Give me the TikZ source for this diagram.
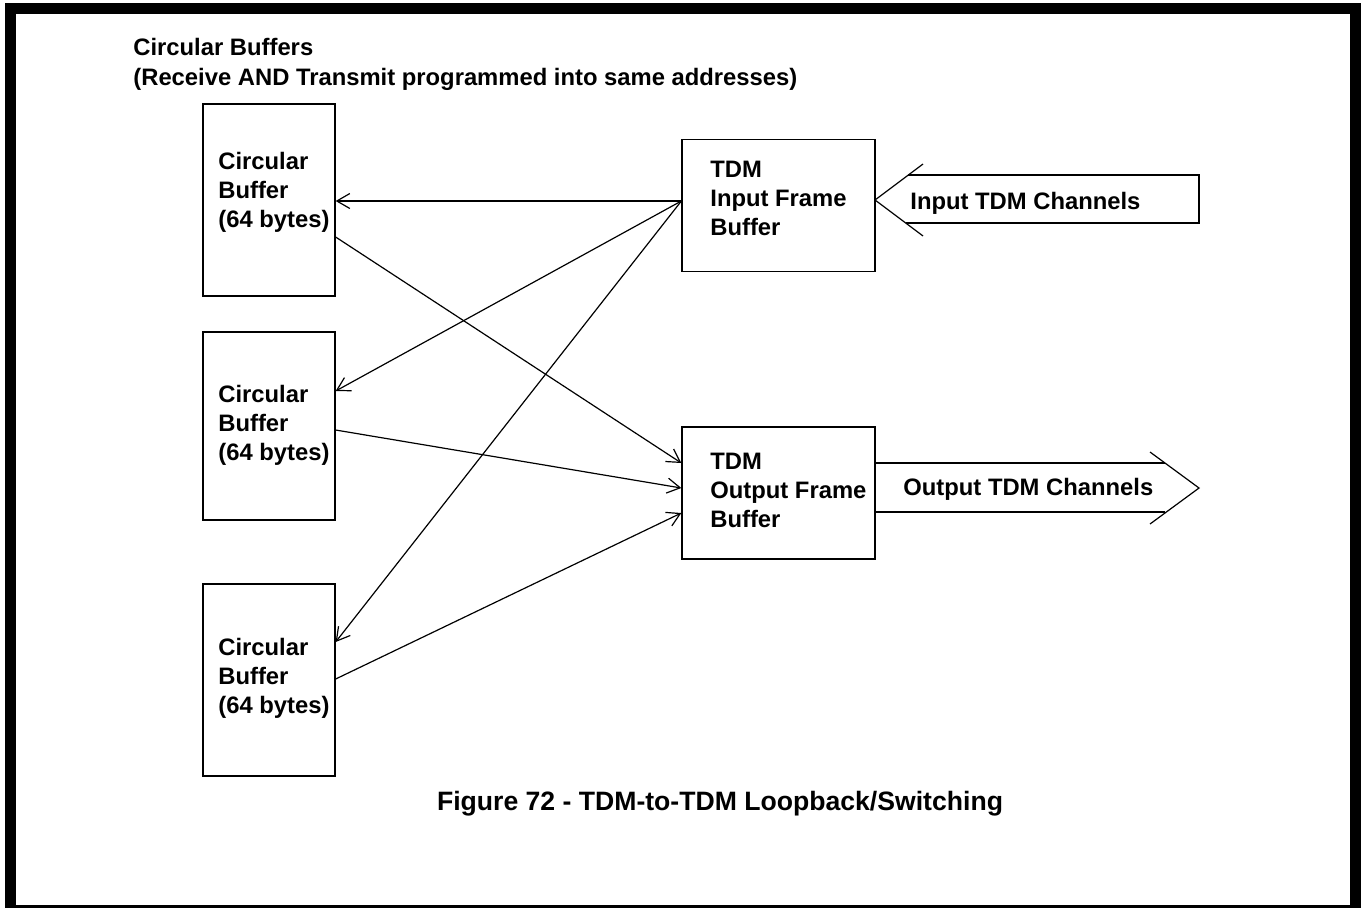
\documentclass[tikz,border=0pt]{standalone}
\usepackage{fontspec}
\setmainfont{Liberation Sans}
\usepackage{tikz}
\usetikzlibrary{arrows.meta, positioning, calc}

\begin{document}
\begin{tikzpicture}[
  x=0.5pt, y=-0.5pt,
  every node/.style={font=\fontsize{11.9}{14.5}\selectfont\bfseries, inner sep=0pt},
  buf/.style={draw, line width=0.65pt, minimum width=66pt},
  tdm/.style={draw, line width=0.65pt, minimum width=96.5pt, minimum height=66pt},
  txt/.style={anchor=west, align=left},
  arrow/.style={-{Straight Barb[length=6.5pt, width=7.5pt]}, line width=0.6pt},
  fat/.style={line width=0.6pt}
]
\useasboundingbox (0,0) rectangle (1363,907);
\draw[line width=5.5pt] (10.5,8) rectangle (1355,910);

\node[txt, font=\fontsize{11.9}{15}\selectfont\bfseries] (title) at (133,64.5) {Circular Buffers\\(Receive AND Transmit programmed into same addresses)};

% circular buffers
\node[buf, minimum height=96pt] (b1) at (269,200) {};
\node[buf, minimum height=94pt] (b2) at (269,426) {};
\node[buf, minimum height=96pt] (b3) at (269,680) {};
\node[txt] (t1) at (218,192.5) {Circular\\Buffer\\(64 bytes)};
\node[txt] (t2) at (218,425) {Circular\\Buffer\\(64 bytes)};
\node[txt] (t3) at (218,678) {Circular\\Buffer\\(64 bytes)};

% frame buffers
\node[tdm] (in)  at (778.5,205.5) {};
\node[tdm] (out) at (778.5,493) {};
\node[txt] (tin)  at (710,198) {TDM\\Input Frame\\Buffer};
\node[txt] (tout) at (710,490) {TDM\\Output Frame\\Buffer};

% channel arrows
\draw[fat] (923,164) -- (875,200) -- (923,236);
\draw[fat] (908,175) -- (1199,175) -- (1199,223) -- (906,223);
\node[txt] (chin) at (910,203) {Input TDM Channels};
\draw[fat] (875,463) -- (1165,463);
\draw[fat] (875,512) -- (1165,512);
\draw[fat] (1150,452) -- (1199,488) -- (1150,524);
\node[txt] (chout) at (903,489) {Output TDM Channels};

% switching paths
\draw[arrow] ($(in.west)+(0,-4.5)$) -- ($(b1.east)+(0,1)$);
\draw[arrow] ($(in.west)+(0,-4.5)$) -- ($(b2.east)+(0,-35)$);
\draw[arrow] ($(in.west)+(0,-4.5)$) -- ($(b3.east)+(0,-38)$);
\draw[arrow] ($(b1.east)+(0,37)$) -- ($(out.west)+(0,-30)$);
\draw[arrow] ($(b2.east)+(0,4)$) -- ($(out.west)+(0,-5)$);
\draw[arrow] ($(b3.east)+(0,-1)$) -- ($(out.west)+(0,20)$);

\node[font=\fontsize{13.3}{16}\selectfont\bfseries] (cap) at (720,803.5) {Figure 72 - TDM-to-TDM Loopback/Switching};
\end{tikzpicture}
\end{document}
